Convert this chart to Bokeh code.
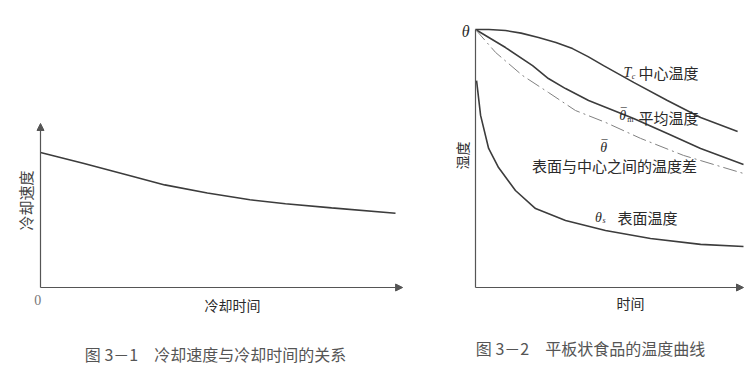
import math
from bokeh.plotting import figure
from bokeh.models import Range1d, Arrow, NormalHead, Label
from bokeh.layouts import row
from bokeh.embed import file_html
from bokeh.resources import INLINE

# ---------------- Fig 3-1 data ----------------
rate_time = [0, 1.2, 2.5, 3.5, 4.7, 5.9, 6.9, 8.2, 10]
rate_vals = [10, 9.2, 8.3, 7.6, 7.0, 6.5, 6.2, 5.9, 5.5]

# ---------------- Fig 3-2 data ----------------
tc_time = [0, 0.5, 1.12, 1.7, 2.35, 3.0, 3.62, 4.2, 4.78, 5.90, 7.16, 8.40, 9.78]
tc_vals = [10, 10.0, 9.96, 9.86, 9.69, 9.50, 9.26, 8.95, 8.60, 7.95, 7.25, 6.59, 6.05]

tm_time = [0, 1.12, 2.13, 2.72, 3.36, 4.22, 4.78, 5.90, 7.16, 8.40, 10.0]
tm_vals = [10, 9.30, 8.60, 8.10, 7.71, 7.25, 7.02, 6.55, 5.97, 5.39, 4.77]

td_time = [0, 0.75, 1.75, 2.72, 3.73, 4.85, 6.16, 7.76, 10.0]
td_vals = [10, 9.11, 8.22, 7.56, 6.86, 6.40, 5.78, 5.12, 4.42]

ts_time = [0.04, 0.19, 0.49, 0.86, 1.49, 2.24, 3.36, 4.85, 6.53, 8.40, 10.0]
ts_vals = [8.02, 6.67, 5.39, 4.65, 3.76, 3.06, 2.60, 2.21, 1.90, 1.67, 1.59]

CJK = "Noto Sans CJK SC"
SERIF = "Liberation Serif"
LINE = "#3c3c3c"
AXC = "#555555"
TXT = "#2a2a2a"
CAP = "#555555"
H = 370


def base(width, x_range, y_range):
    p = figure(width=width, height=H, x_range=Range1d(*x_range), y_range=Range1d(*y_range),
               output_backend="svg", toolbar_location=None, min_border=0,
               x_axis_location=None, y_axis_location=None)
    p.grid.visible = False
    p.outline_line_color = None
    p.background_fill_color = "white"
    p.border_fill_color = "white"
    return p


def lab(p, x, y, text, size, font=CJK, color=TXT, style="normal", angle=0.0, xo=0, yo=0):
    p.add_layout(Label(x=x, y=y, text=text, text_font=font, text_font_size=f"{size}px",
                       text_color=color, text_font_style=style, text_align="center",
                       text_baseline="middle", angle=angle, x_offset=xo, y_offset=yo))


# ---------------- left panel ----------------
p1 = base(444, (-40 / 35.5, 404 / 35.5), (-(H - 287) / 13.5, 287 / 13.5))
p1.add_layout(Arrow(end=NormalHead(size=7, fill_color=AXC, line_color=AXC), line_color=AXC,
                    line_width=1.2, x_start=0, y_start=0, x_end=10.2, y_end=0))
p1.add_layout(Arrow(end=NormalHead(size=7, fill_color=AXC, line_color=AXC), line_color=AXC,
                    line_width=1.2, x_start=0, y_start=0, x_end=0, y_end=12.15))
p1.line(rate_time, rate_vals, line_color=LINE, line_width=1.6)

lab(p1, -0.42, 6.44, "冷却速度", 15, color="#444444", angle=math.pi / 2)
lab(p1, -0.08, -0.96, "0", 14, font=SERIF, color="#777777")
lab(p1, 5.41, -1.26, "冷却时间", 14)
lab(p1, 4.93, -4.89, "图 3－1　冷却速度与冷却时间的关系", 16, color=CAP)

# ---------------- right panel ----------------
p2 = base(300, (-31 / 26.8, 269 / 26.8), (-(H - 287) / 25.8, 287 / 25.8))
p2.add_layout(Arrow(end=NormalHead(size=7, fill_color=AXC, line_color=AXC), line_color=AXC,
                    line_width=1.2, x_start=0, y_start=0, x_end=10.0, y_end=0))
p2.line([0, 0], [0, 10], line_color=AXC, line_width=1.2)

p2.line(tc_time, tc_vals, line_color=LINE, line_width=1.6)
p2.line(tm_time, tm_vals, line_color=LINE, line_width=1.6)
p2.line(td_time, td_vals, line_color="#808080", line_width=1.0, line_dash="14 4 2 4")
p2.line(ts_time, ts_vals, line_color=LINE, line_width=1.6)

lab(p2, -0.37, 9.92, "θ", 16, font=SERIF, style="italic")
lab(p2, -0.52, 5.12, "湿度", 14, angle=math.pi / 2)
lab(p2, 5.78, -0.62, "时间", 14)
lab(p2, 4.29, -2.36, "图 3－2　平板状食品的温度曲线", 16, color=CAP)

lab(p2, 5.67, 8.33, "T", 14, font=SERIF, style="italic")
lab(p2, 5.90, 8.16, "c", 8, font=SERIF, style="italic")
lab(p2, 7.20, 8.33, "中心温度", 15)

lab(p2, 5.49, 6.67, "θ", 14, font=SERIF, style="italic")
lab(p2, 5.49, 6.67, "¯", 12, font=SERIF, xo=1, yo=2)
lab(p2, 5.78, 6.51, "m", 8, font=SERIF)
lab(p2, 7.20, 6.59, "平均温度", 15)

lab(p2, 4.78, 5.43, "θ", 14, font=SERIF, style="italic")
lab(p2, 4.78, 5.43, "¯", 12, font=SERIF, xo=1, yo=2)
lab(p2, 5.19, 4.73, "表面与中心之间的温度差", 15)

lab(p2, 4.59, 2.71, "θ", 14, font=SERIF, style="italic")
lab(p2, 4.80, 2.58, "s", 8, font=SERIF, style="italic")
lab(p2, 6.42, 2.71, "表面温度", 15)

layout = row(p1, p2)
open("out.html", "w").write(file_html(layout, INLINE))
